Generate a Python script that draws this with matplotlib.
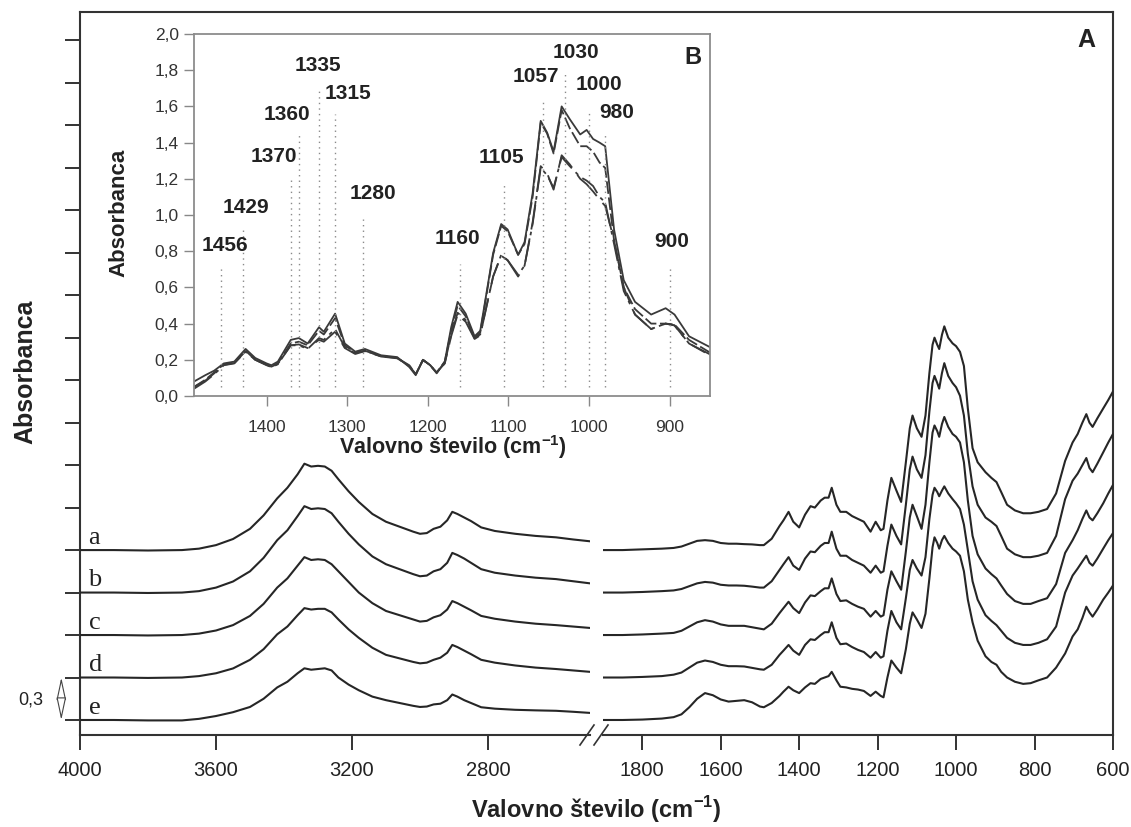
"""FTIR spectra a-e, stacked, with a broken wavenumber axis and an inset of the fingerprint region."""

import matplotlib

matplotlib.use("Agg")
import matplotlib.pyplot as plt
from matplotlib.lines import Line2D

plt.rcParams["font.family"] = ["Liberation Sans", "DejaVu Sans"]
plt.rcParams["mathtext.fontset"] = "custom"
plt.rcParams["mathtext.rm"] = "Liberation Sans"
plt.rcParams["mathtext.bf"] = "Liberation Sans:bold"

# ---- main panel A: high wavenumber segment (cm-1) ----
WN_HI = [4000, 3900, 3800, 3700, 3650, 3600, 3550, 3500, 3460, 3420, 3390, 3360, 3340,
         3320, 3300, 3280, 3260, 3240, 3210, 3180, 3140, 3100, 3060, 3020, 3000, 2980,
         2960, 2940, 2920, 2905, 2890, 2870, 2850, 2820, 2780, 2720, 2660, 2600, 2550, 2500]
HI_A = [0.0, 0.0, -0.003, 0.0, 0.01, 0.035, 0.078, 0.15, 0.245, 0.365, 0.44, 0.535, 0.61,
        0.59, 0.595, 0.59, 0.56, 0.50, 0.415, 0.34, 0.255, 0.20, 0.165, 0.13, 0.115, 0.12,
        0.15, 0.165, 0.21, 0.27, 0.255, 0.23, 0.205, 0.16, 0.135, 0.115, 0.10, 0.09, 0.075, 0.062]
HI_B = [0.0, 0.0, -0.003, 0.0, 0.01, 0.035, 0.078, 0.15, 0.245, 0.37, 0.44, 0.54, 0.61,
        0.59, 0.595, 0.59, 0.56, 0.50, 0.415, 0.34, 0.255, 0.20, 0.165, 0.13, 0.115, 0.12,
        0.15, 0.165, 0.21, 0.28, 0.265, 0.24, 0.21, 0.165, 0.14, 0.12, 0.105, 0.095, 0.08, 0.065]
HI_C = [0.0, 0.0, -0.003, 0.0, 0.01, 0.032, 0.07, 0.135, 0.22, 0.335, 0.40, 0.49, 0.55,
        0.53, 0.535, 0.53, 0.50, 0.45, 0.375, 0.30, 0.225, 0.17, 0.14, 0.11, 0.095, 0.10,
        0.125, 0.14, 0.18, 0.24, 0.225, 0.20, 0.175, 0.135, 0.115, 0.095, 0.08, 0.07, 0.06, 0.05]
HI_D = [0.0, 0.0, -0.003, 0.0, 0.01, 0.03, 0.064, 0.125, 0.20, 0.305, 0.36, 0.44, 0.49,
        0.48, 0.485, 0.485, 0.46, 0.41, 0.34, 0.28, 0.21, 0.16, 0.135, 0.11, 0.10, 0.105,
        0.125, 0.14, 0.175, 0.23, 0.215, 0.19, 0.165, 0.125, 0.105, 0.085, 0.07, 0.06, 0.05, 0.04]
HI_E = [0.0, 0.0, -0.003, -0.003, 0.008, 0.028, 0.055, 0.092, 0.15, 0.23, 0.27, 0.33, 0.365,
        0.355, 0.36, 0.365, 0.35, 0.30, 0.25, 0.21, 0.165, 0.14, 0.12, 0.10, 0.092, 0.095,
        0.11, 0.115, 0.14, 0.18, 0.165, 0.14, 0.12, 0.09, 0.08, 0.072, 0.068, 0.065, 0.058, 0.05]

# ---- main panel A: low wavenumber segment (cm-1) ----
WN_LO = [1900, 1850, 1800, 1750, 1720, 1700, 1680, 1660, 1640, 1620, 1600, 1580, 1560, 1540,
         1520, 1500, 1490, 1470, 1450, 1440, 1427, 1415, 1400, 1385, 1371, 1360, 1345, 1335,
         1325, 1317, 1305, 1295, 1280, 1265, 1250, 1235, 1218, 1205, 1192, 1185, 1175, 1165,
         1152, 1140, 1128, 1118, 1111, 1100, 1088, 1078, 1068, 1060, 1055, 1048, 1043, 1036,
         1030, 1020, 1009, 1000, 990, 980, 970, 958, 945, 925, 910, 897, 885, 870, 850, 829,
         810, 790, 768, 745, 722, 703, 690, 678, 668, 660, 652, 640, 625, 612, 600]
LO_A = [0.0, 0.0, 0.005, 0.01, 0.015, 0.025, 0.045, 0.065, 0.07, 0.065, 0.05, 0.045, 0.045,
        0.042, 0.04, 0.035, 0.035, 0.08, 0.17, 0.21, 0.27, 0.20, 0.16, 0.25, 0.31, 0.30, 0.35,
        0.37, 0.37, 0.44, 0.32, 0.27, 0.27, 0.24, 0.22, 0.20, 0.13, 0.20, 0.14, 0.15, 0.35,
        0.51, 0.42, 0.34, 0.62, 0.86, 0.95, 0.86, 0.80, 0.95, 1.25, 1.45, 1.50, 1.45, 1.42,
        1.52, 1.58, 1.50, 1.46, 1.44, 1.40, 1.30, 1.00, 0.72, 0.62, 0.55, 0.51, 0.48, 0.41,
        0.32, 0.28, 0.26, 0.26, 0.27, 0.29, 0.40, 0.63, 0.76, 0.82, 0.90, 0.96, 0.90, 0.87,
        0.93, 1.00, 1.06, 1.12]
LO_B = [0.0, 0.0, 0.004, 0.01, 0.015, 0.025, 0.045, 0.065, 0.075, 0.07, 0.055, 0.05, 0.05,
        0.048, 0.042, 0.035, 0.035, 0.08, 0.16, 0.20, 0.25, 0.19, 0.16, 0.24, 0.29, 0.285, 0.33,
        0.35, 0.35, 0.43, 0.31, 0.26, 0.26, 0.23, 0.21, 0.19, 0.14, 0.19, 0.14, 0.15, 0.33,
        0.48, 0.40, 0.34, 0.62, 0.87, 0.96, 0.87, 0.81, 0.97, 1.28, 1.48, 1.53, 1.48, 1.44,
        1.55, 1.62, 1.53, 1.48, 1.45, 1.39, 1.25, 0.98, 0.75, 0.62, 0.53, 0.50, 0.47, 0.40,
        0.31, 0.27, 0.25, 0.25, 0.26, 0.28, 0.40, 0.66, 0.79, 0.84, 0.90, 0.95, 0.88, 0.85,
        0.91, 0.99, 1.06, 1.12]
LO_C = [0.0, 0.0, 0.004, 0.01, 0.015, 0.03, 0.06, 0.09, 0.105, 0.095, 0.075, 0.065, 0.065,
        0.065, 0.055, 0.045, 0.04, 0.08, 0.155, 0.19, 0.235, 0.19, 0.155, 0.23, 0.28, 0.275,
        0.31, 0.33, 0.33, 0.40, 0.29, 0.24, 0.245, 0.22, 0.20, 0.185, 0.13, 0.17, 0.13, 0.14,
        0.32, 0.45, 0.38, 0.32, 0.59, 0.83, 0.92, 0.84, 0.75, 0.92, 1.22, 1.43, 1.48, 1.44,
        1.40, 1.49, 1.54, 1.47, 1.42, 1.40, 1.36, 1.22, 0.95, 0.70, 0.57, 0.47, 0.43, 0.40,
        0.35, 0.29, 0.24, 0.22, 0.22, 0.24, 0.26, 0.36, 0.58, 0.67, 0.74, 0.82, 0.88, 0.83,
        0.81, 0.86, 0.93, 1.00, 1.06]
LO_D = [0.0, 0.0, 0.004, 0.01, 0.02, 0.035, 0.07, 0.105, 0.12, 0.11, 0.09, 0.08, 0.08,
        0.078, 0.068, 0.058, 0.055, 0.09, 0.16, 0.19, 0.23, 0.19, 0.16, 0.23, 0.27, 0.265,
        0.30, 0.32, 0.32, 0.39, 0.28, 0.235, 0.24, 0.215, 0.195, 0.18, 0.14, 0.18, 0.14, 0.15,
        0.33, 0.47, 0.39, 0.34, 0.56, 0.76, 0.83, 0.77, 0.72, 0.85, 1.12, 1.29, 1.34, 1.31,
        1.28, 1.32, 1.35, 1.30, 1.26, 1.23, 1.19, 1.08, 0.90, 0.68, 0.55, 0.44, 0.40, 0.37,
        0.33, 0.28, 0.245, 0.23, 0.23, 0.245, 0.27, 0.36, 0.60, 0.72, 0.77, 0.82, 0.86, 0.81,
        0.79, 0.84, 0.91, 0.97, 1.02]
LO_E = [0.0, 0.0, 0.003, 0.01, 0.02, 0.04, 0.09, 0.15, 0.19, 0.175, 0.145, 0.13, 0.135,
        0.14, 0.125, 0.095, 0.09, 0.12, 0.17, 0.20, 0.235, 0.21, 0.19, 0.23, 0.26, 0.255,
        0.29, 0.30, 0.31, 0.34, 0.28, 0.235, 0.23, 0.22, 0.215, 0.205, 0.17, 0.20, 0.17, 0.16,
        0.30, 0.42, 0.37, 0.33, 0.50, 0.68, 0.76, 0.71, 0.65, 0.75, 1.00, 1.22, 1.29, 1.25,
        1.21, 1.27, 1.30, 1.25, 1.21, 1.19, 1.16, 1.05, 0.85, 0.69, 0.56, 0.45, 0.41, 0.39,
        0.34, 0.30, 0.27, 0.255, 0.26, 0.28, 0.30, 0.37, 0.47, 0.59, 0.64, 0.72, 0.80, 0.76,
        0.73, 0.78, 0.85, 0.90, 0.95]

SPECTRA = ["a", "b", "c", "d", "e"]
OFFSET = [1.2, 0.9, 0.6, 0.3, 0.0]  # stacking step = 0,3 absorbance units
HI = [HI_A, HI_B, HI_C, HI_D, HI_E]
LO = [LO_A, LO_B, LO_C, LO_D, LO_E]

# ---- inset B: fingerprint region ----
WN_B = [1490, 1476, 1465, 1453, 1440, 1426, 1414, 1400, 1394, 1386, 1370, 1360, 1349, 1335,
        1329, 1315, 1303, 1290, 1278, 1258, 1238, 1223, 1215, 1206, 1197, 1189, 1179, 1171,
        1163, 1153, 1142, 1135, 1119, 1109, 1101, 1088, 1080, 1070, 1060, 1052, 1044, 1034,
        1024, 1011, 1003, 995, 987, 980, 969, 957, 943, 923, 905, 894, 876, 850]
B_1 = [0.08, 0.115, 0.14, 0.18, 0.19, 0.26, 0.21, 0.18, 0.17, 0.19, 0.31, 0.32, 0.29, 0.38,
       0.355, 0.455, 0.29, 0.245, 0.26, 0.225, 0.215, 0.16, 0.115, 0.20, 0.17, 0.125, 0.19,
       0.38, 0.52, 0.455, 0.33, 0.36, 0.79, 0.95, 0.92, 0.78, 0.85, 1.12, 1.52, 1.455, 1.35,
       1.60, 1.53, 1.445, 1.47, 1.42, 1.40, 1.38, 0.92, 0.64, 0.52, 0.45, 0.485, 0.45, 0.33, 0.27]
B_2 = [0.05, 0.09, 0.13, 0.175, 0.185, 0.25, 0.20, 0.175, 0.165, 0.18, 0.29, 0.30, 0.28, 0.36,
       0.34, 0.43, 0.28, 0.24, 0.25, 0.22, 0.21, 0.165, 0.12, 0.20, 0.17, 0.13, 0.19, 0.36,
       0.50, 0.44, 0.32, 0.35, 0.78, 0.94, 0.91, 0.78, 0.84, 1.10, 1.51, 1.45, 1.34, 1.58,
       1.48, 1.38, 1.38, 1.35, 1.29, 1.26, 0.86, 0.60, 0.48, 0.40, 0.40, 0.395, 0.31, 0.24]
B_3 = [0.04, 0.08, 0.12, 0.17, 0.18, 0.245, 0.20, 0.17, 0.16, 0.175, 0.28, 0.28, 0.26, 0.32,
       0.31, 0.37, 0.27, 0.235, 0.25, 0.22, 0.21, 0.17, 0.12, 0.20, 0.17, 0.13, 0.18, 0.34,
       0.46, 0.42, 0.32, 0.34, 0.66, 0.78, 0.75, 0.67, 0.72, 0.95, 1.26, 1.22, 1.15, 1.32,
       1.27, 1.21, 1.19, 1.16, 1.10, 1.07, 0.84, 0.58, 0.45, 0.37, 0.40, 0.39, 0.29, 0.225]
B_4 = [0.05, 0.085, 0.125, 0.172, 0.182, 0.248, 0.20, 0.172, 0.162, 0.178, 0.28, 0.285, 0.265,
       0.31, 0.30, 0.355, 0.265, 0.232, 0.248, 0.218, 0.208, 0.168, 0.12, 0.198, 0.168, 0.13,
       0.18, 0.33, 0.45, 0.41, 0.315, 0.335, 0.66, 0.775, 0.75, 0.66, 0.72, 0.96, 1.27, 1.23,
       1.14, 1.33, 1.28, 1.20, 1.17, 1.13, 1.085, 1.05, 0.86, 0.60, 0.45, 0.37, 0.40, 0.39, 0.29, 0.23]
B_SERIES = [B_1, B_2, B_3, B_4]
B_DASHES = [None, (7, 2), (12, 3, 2, 3), (16, 5)]

# marked bands in B: wavenumber, top of the dotted guide, label centre
BANDS = ["1456", "1429", "1370", "1360", "1335", "1315", "1280",
         "1160", "1105", "1057", "1030", "1000", "980", "900"]
BAND_WN = [1456, 1429, 1370, 1360, 1335, 1315, 1280, 1160, 1105, 1057, 1030, 1000, 980, 900]
BAND_TOP = [0.71, 0.94, 1.20, 1.44, 1.70, 1.56, 0.98, 0.73, 1.17, 1.64, 1.79, 1.58, 1.46, 0.715]
LABEL_X = [1452, 1425, 1391, 1375, 1336, 1299, 1268, 1163, 1109, 1066, 1016, 988, 966, 897]
LABEL_Y = [0.83, 1.04, 1.325, 1.555, 1.825, 1.67, 1.12, 0.87, 1.315, 1.765, 1.90, 1.72, 1.565, 0.855]

W, H = 1131, 827
INK = "#262626"


def fig_rect(x0, y0, x1, y1):
    """Pixel box (left, top, right, bottom) -> figure fraction rect."""
    return [x0 / W, 1 - y1 / H, (x1 - x0) / W, (y1 - y0) / H]


fig = plt.figure(figsize=(W / 100, H / 100), dpi=100)
ylim = (-0.106, 5.0)

# frame of panel A: left ticks, top and right border
frame = fig.add_axes(fig_rect(80, 12, 1113, 735))
frame.set_ylim(*ylim)
frame.set_xticks([])
frame.set_yticks([0.3 * k for k in range(17)])
frame.set_yticklabels([])
frame.tick_params(axis="y", direction="out", length=11, width=1.4, color="#333333")
frame.spines["bottom"].set_visible(False)
for s in ("left", "top", "right"):
    frame.spines[s].set_linewidth(1.5)
    frame.spines[s].set_color("#333333")

ax_hi = fig.add_axes(fig_rect(80, 12, 590, 735))
ax_lo = fig.add_axes(fig_rect(603, 12, 1113, 735))
for ax, wn, series, lim, ticks in (
    (ax_hi, WN_HI, HI, (4000, 2500), [4000, 3600, 3200, 2800]),
    (ax_lo, WN_LO, LO, (1900, 600), [1800, 1600, 1400, 1200, 1000, 800, 600]),
):
    ax.patch.set_visible(False)
    for vals, off in zip(series, OFFSET):
        ax.plot(wn, [v + off for v in vals], color=INK, lw=1.5, solid_joinstyle="round")
    ax.set_xlim(*lim)
    ax.set_ylim(*ylim)
    ax.set_xticks(ticks)
    ax.set_yticks([])
    for s in ("left", "top", "right"):
        ax.spines[s].set_visible(False)
    ax.spines["bottom"].set_linewidth(1.5)
    ax.spines["bottom"].set_color("#333333")
    ax.tick_params(axis="x", direction="out", length=11, width=1.4, color="#333333",
                   labelsize=14.5, pad=8, labelcolor="#222222")

for name, off in zip(SPECTRA, OFFSET):
    ax_hi.text(3975, off + 0.045, name, family=["Liberation Serif", "DejaVu Serif"],
               fontsize=19, color="#222222", ha="left", va="baseline")

# axis break marks
for cx in (587, 601):
    fig.add_artist(Line2D([(cx - 7) / W, (cx + 7) / W], [1 - 745 / H, 1 - 725 / H],
                          color="#333333", lw=1.2))

# scale bar 0,3
ax_hi.annotate("", xy=(4055, 0.0), xytext=(4055, 0.3), annotation_clip=False,
               arrowprops=dict(arrowstyle="<|-|>,head_length=1.4,head_width=0.3",
                               fc="white", ec="#444444", lw=0.8, shrinkA=0, shrinkB=0))
fig.text(31 / W, 1 - 700 / H, "0,3", fontsize=13, ha="center", va="center", color="#222222")

fig.text(25 / W, 1 - 372 / H, "Absorbanca", rotation=90, fontsize=18, fontweight="bold",
         ha="center", va="center", color="#222222")
fig.text(596 / W, 1 - 810 / H, r"Valovno število (cm$^{\mathbf{-1}}$)", fontsize=17,
         fontweight="bold", ha="center", va="center", color="#222222")
frame.text(0.974, 0.961, "A", transform=frame.transAxes, fontsize=18, fontweight="bold",
           ha="center", va="center", color="#222222")

# ---- inset B ----
ins = fig.add_axes(fig_rect(194, 34, 710, 396))
ins.set_zorder(5)
ins.set_facecolor("white")
for vals, dash in zip(B_SERIES, B_DASHES):
    line, = ins.plot(WN_B, vals, color="#3a3a3a", lw=1.3)
    if dash:
        line.set_dashes(dash)
for wn, top in zip(BAND_WN, BAND_TOP):
    ins.plot([wn, wn], [0.05, top], color="#8a8a8a", lw=1.0, ls=(0, (1, 3)))
for lab, lx, ly in zip(BANDS, LABEL_X, LABEL_Y):
    ins.text(lx, ly, lab, fontsize=15, fontweight="bold", ha="center", va="center",
             color="#222222")
ins.set_xlim(1490, 850)
ins.set_ylim(0, 2.0)
ins.set_xticks([1400, 1300, 1200, 1100, 1000, 900])
yt = [0.2 * k for k in range(11)]
ins.set_yticks(yt)
ins.set_yticklabels([f"{v:.1f}".replace(".", ",") for v in yt])
ins.tick_params(direction="out", length=7, width=1.0, color="#888888", labelsize=12.5,
                labelcolor="#333333")
ins.tick_params(axis="x", pad=10)
ins.tick_params(axis="y", pad=4)
for s in ins.spines.values():
    s.set_color("#8c8c8c")
    s.set_linewidth(1.3)
ins.text(0.502, -0.141, r"Valovno število (cm$^{\mathbf{-1}}$)", transform=ins.transAxes,
         fontsize=15.5, fontweight="bold", ha="center", va="center", color="#222222")
ins.text(-0.145, 0.505, "Absorbanca", transform=ins.transAxes, rotation=90, fontsize=16,
         fontweight="bold", ha="center", va="center", color="#222222")
ins.text(0.967, 0.936, "B", transform=ins.transAxes, fontsize=17, fontweight="bold",
         ha="center", va="center", color="#222222")

fig.savefig("out.png", dpi=100)
